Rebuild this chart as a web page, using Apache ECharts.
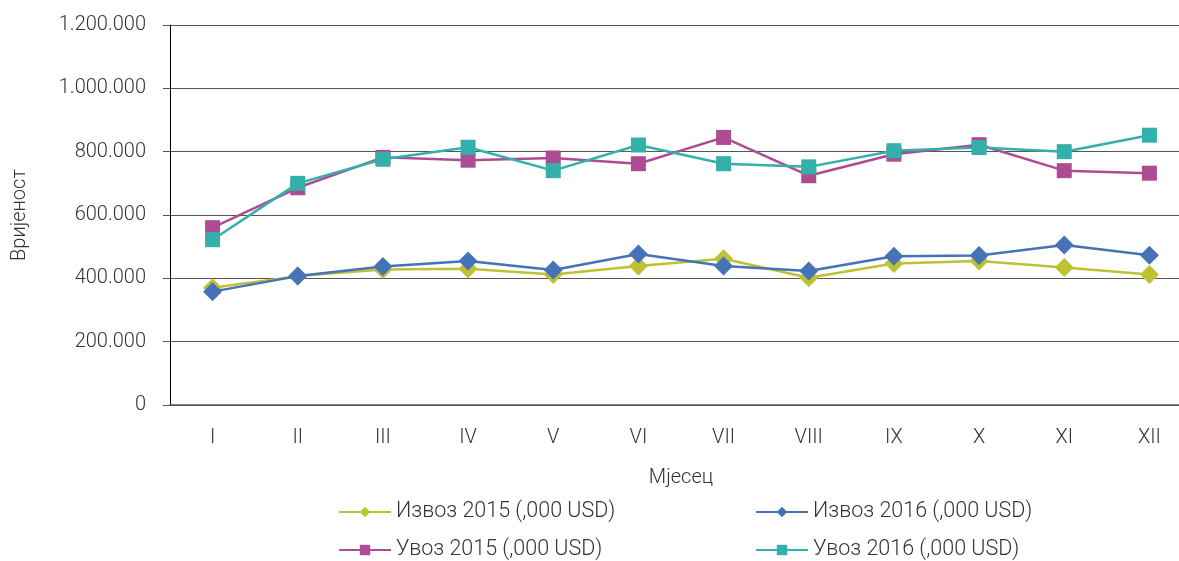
<!DOCTYPE html>
<html><head><meta charset="utf-8">
<script src="https://cdn.jsdelivr.net/npm/echarts@6/dist/echarts.min.js"></script>
<style>html,body{margin:0;padding:0;background:#fff}#c{width:1179px;height:561px}</style>
</head><body><div id="c"></div>
<script>
const categories = ['I','II','III','IV','V','VI','VII','VIII','IX','X','XI','XII'];
const izvoz2015 = [370000,407000,428000,430000,412000,439000,462000,402000,447000,455000,434000,412000];
const izvoz2016 = [358000,407000,437000,455000,426000,477000,439000,423000,470000,472000,505000,473000];
const uvoz2015 = [560000,686000,782000,773000,780000,762000,845000,724000,792000,822000,740000,732000];
const uvoz2016 = [522000,700000,776000,814000,740000,821000,762000,752000,803000,813000,800000,852000];
const seriesNames = ['Извоз 2015 (,000 USD)','Извоз 2016 (,000 USD)','Увоз 2015 (,000 USD)','Увоз 2016 (,000 USD)'];
const colors = ['#BCC233','#4672B8','#AE4C93','#33B0AB'];

const font = 'Roboto';
const chart = echarts.init(document.getElementById('c'));
function fmt(v){return String(v).replace(/\B(?=(\d{3})+(?!\d))/g,'.');}
function mk(i, data, sym, size){
  return {name: seriesNames[i], type:'line', data: data, symbol: sym, symbolSize: size,
    lineStyle:{color:colors[i], width:2.5}, itemStyle:{color:colors[i]}, color: colors[i], z: 2+i};
}
const legendBase = {itemWidth:52, itemHeight:13, itemGap:0, padding:0,
  textStyle:{fontFamily:font, fontWeight:300, fontSize:21.5, color:'#333'}};
chart.setOption({
  animation:false,
  color: colors,
  grid:{left:170, top:25, right:-13, bottom:156, containLabel:false, outerBoundsMode:'none'},
  legend:[
    Object.assign({left:338, top:501, data:[seriesNames[0]]}, legendBase),
    Object.assign({left:755, top:501, data:[seriesNames[1]]}, legendBase),
    Object.assign({left:338, top:539, data:[seriesNames[2]]}, legendBase),
    Object.assign({left:755, top:539, data:[seriesNames[3]]}, legendBase)
  ],
  xAxis:{type:'category', data:categories, boundaryGap:true,
    name:'Мјесец', nameLocation:'middle', nameGap:63,
    nameTextStyle:{fontFamily:font, fontWeight:300, fontSize:20, color:'#333'},
    axisLine:{lineStyle:{color:'#555', width:1.5}}, axisTick:{show:false},
    axisLabel:{fontFamily:font, fontWeight:300, fontSize:20, color:'#333', margin:23}},
  yAxis:{type:'value', min:0, max:1200000, interval:200000,
    name:'Вријеност', nameLocation:'middle', nameGap:140,
    nameTextStyle:{fontFamily:font, fontWeight:300, fontSize:20, color:'#333'},
    axisLine:{show:true, lineStyle:{color:'#000', width:1}},
    axisTick:{show:true, length:7, lineStyle:{color:'#555'}},
    splitLine:{lineStyle:{color:'#555', width:1.2}},
    axisLabel:{fontFamily:font, fontWeight:300, fontSize:20, color:'#333', margin:24, formatter:fmt}},
  series:[
    mk(0, izvoz2015, 'diamond', [19,19]),
    mk(1, izvoz2016, 'diamond', [19,19]),
    mk(2, uvoz2015, 'rect', 15),
    mk(3, uvoz2016, 'rect', 15)
  ]
});
</script></body></html>
